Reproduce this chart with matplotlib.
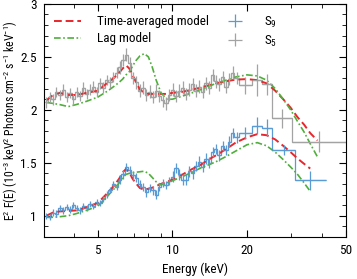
import numpy as np
import matplotlib.pyplot as plt
from matplotlib.ticker import FixedLocator, NullFormatter, MultipleLocator

plt.rcParams['font.family'] = ['Roboto Condensed', 'DejaVu Sans']
plt.rcParams['mathtext.default'] = 'regular'

###############################################################################
# DATA
###############################################################################

#bin edges below 18.5 keV, shared by both spectra
edges_low = [3.05, 3.15, 3.25, 3.35, 3.46, 3.57, 3.68, 3.80, 3.92, 4.04, 4.17,
             4.30, 4.44, 4.58, 4.72, 4.87, 5.02, 5.18, 5.34, 5.51, 5.68, 5.86,
             6.04, 6.23, 6.42, 6.62, 6.83, 7.04, 7.26, 7.49, 7.72, 7.96, 8.21,
             8.47, 8.73, 9.00, 9.28, 9.57, 9.87, 10.18, 10.5, 10.83, 11.17,
             11.52, 11.88, 12.25, 12.63, 13.03, 13.44, 13.86, 14.3, 14.75, 15.2,
             15.7, 16.2, 16.7, 17.2, 17.8, 18.5]
edges_S5 = edges_low + [21.0, 23.0, 25.3, 30.4, 50.0]
edges_S9 = edges_low + [21.0, 23.0, 25.3, 31.3, 41.5]

S5 = [2.07, 2.12, 2.10, 2.17, 2.14, 2.19, 2.12, 2.16, 2.10, 2.17, 2.13, 2.21,
      2.15, 2.19, 2.22, 2.17, 2.25, 2.21, 2.28, 2.26, 2.31, 2.35, 2.40, 2.47,
      2.52, 2.44, 2.30, 2.26, 2.18, 2.21, 2.14, 2.17, 2.12, 2.18, 2.13, 2.09,
      2.06, 2.14, 2.19, 2.13, 2.18, 2.21, 2.15, 2.19, 2.24, 2.18, 2.22, 2.17,
      2.25, 2.21, 2.33, 2.27, 2.24, 2.31, 2.22, 2.29, 2.35, 2.30,
      2.23, 2.28, 2.24, 1.92, 1.70]
S5_err = [0.05] * 22 + [0.06] * 16 + [0.06] * 20 + [0.08, 0.15, 0.1, 0.09, 0.1]

S9 = [1.00, 0.99, 1.03, 1.02, 1.07, 1.05, 1.08, 1.06, 1.10, 1.07, 1.05, 1.09,
      1.07, 1.11, 1.09, 1.13, 1.12, 1.16, 1.20, 1.24, 1.30, 1.27, 1.34, 1.39,
      1.46, 1.43, 1.38, 1.36, 1.30, 1.27, 1.22, 1.26, 1.24, 1.20, 1.27, 1.31,
      1.29, 1.33, 1.37, 1.45, 1.39, 1.34, 1.34, 1.42, 1.40, 1.47, 1.51, 1.46,
      1.54, 1.50, 1.60, 1.63, 1.57, 1.66, 1.62, 1.70, 1.78, 1.74,
      1.78, 1.85, 1.83, 1.62, 1.336]
S9_err = [0.03] * 22 + [0.04] * 16 + [0.05] * 20 + [0.06, 0.08, 0.08, 0.05, 0.09]

#model curves
E_mod = [3.1, 3.3, 3.5, 3.8, 4.1, 4.5, 5.0, 5.5, 5.8, 6.1, 6.3, 6.5, 6.7, 6.9,
         7.1, 7.4, 7.7, 8.0, 8.3, 8.6, 9.0, 9.5, 10, 11, 12, 13, 14, 15, 16.5,
         18, 20, 22, 24, 26, 28, 30, 32, 34, 36, 38.5]
avg_S5 = [2.09, 2.14, 2.16, 2.14, 2.14, 2.16, 2.18, 2.26, 2.30, 2.35, 2.39,
          2.42, 2.39, 2.33, 2.27, 2.19, 2.16, 2.15, 2.15, 2.15, 2.15, 2.15,
          2.16, 2.17, 2.19, 2.21, 2.23, 2.25, 2.27, 2.285, 2.29, 2.28, 2.25,
          2.18, 2.10, 2.02, 1.93, 1.86, 1.78, 1.71]
lag_S5 = [2.07, 2.06, 2.05, 2.03, 2.05, 2.08, 2.12, 2.18, 2.22, 2.26, 2.29,
          2.33, 2.36, 2.41, 2.46, 2.51, 2.53, 2.50, 2.40, 2.28, 2.16, 2.10,
          2.10, 2.13, 2.16, 2.19, 2.22, 2.25, 2.28, 2.31, 2.33, 2.32, 2.28,
          2.20, 2.10, 2.00, 1.89, 1.79, 1.68, 1.555]
E_mod9 = E_mod[:-1]
avg_S9 = [1.00, 1.03, 1.04, 1.045, 1.05, 1.08, 1.12, 1.22, 1.28, 1.35, 1.41,
          1.44, 1.41, 1.35, 1.31, 1.26, 1.245, 1.255, 1.265, 1.28, 1.30, 1.32,
          1.34, 1.39, 1.44, 1.48, 1.53, 1.57, 1.63, 1.69, 1.74, 1.77, 1.76,
          1.72, 1.66, 1.60, 1.54, 1.49, 1.445]
lag_S9 = [0.985, 0.985, 0.99, 1.00, 1.02, 1.05, 1.09, 1.19, 1.25, 1.31, 1.36,
          1.39, 1.40, 1.405, 1.41, 1.415, 1.42, 1.40, 1.36, 1.32, 1.29, 1.31,
          1.33, 1.37, 1.41, 1.45, 1.48, 1.51, 1.56, 1.61, 1.67, 1.69, 1.66,
          1.60, 1.53, 1.46, 1.39, 1.31, 1.23]

###############################################################################
# PLOT
###############################################################################

c_avg = '#e8262b'
c_lag = '#4fae3c'
c_S9 = '#5b9bd5'
c_S5 = '#a3a3a3'

fig = plt.figure(figsize=(3.57, 2.79), dpi=100)
ax = fig.add_axes([0.123, 0.151, 0.845, 0.835])

def plot_spectrum(edges, vals, errs, color, label):
    edges = np.array(edges)
    centers = np.sqrt(edges[:-1] * edges[1:])
    ax.stairs(vals, edges, baseline=None, color=color, lw=0.9)
    ax.errorbar(centers, vals, yerr=errs, xerr=[centers - edges[:-1], edges[1:] - centers],
                fmt='none', ecolor=color, elinewidth=0.9, capsize=0, label=label)

ax.plot(E_mod, avg_S5, '--', color=c_avg, lw=1.4, dashes=(4, 2), label="Time-averaged model")
ax.plot(E_mod, lag_S5, '-.', color=c_lag, lw=1.2, dashes=(4, 1.5, 1, 1.5), label="Lag model")
ax.plot(E_mod9, avg_S9, '--', color=c_avg, lw=1.4, dashes=(4, 2))
ax.plot(E_mod9, lag_S9, '-.', color=c_lag, lw=1.2, dashes=(4, 1.5, 1, 1.5))

plot_spectrum(edges_S9, S9, S9_err, c_S9, "S$_9$")
plot_spectrum(edges_S5, S5, S5_err, c_S5, "S$_5$")

ax.set_xscale('log')
ax.set_xlim(3.03, 50)
ax.set_ylim(0.8, 3)
ax.xaxis.set_major_locator(FixedLocator([5, 10, 20, 50]))
ax.xaxis.set_minor_locator(FixedLocator([3, 4, 6, 7, 8, 9, 30, 40]))
ax.xaxis.set_minor_formatter(NullFormatter())
ax.set_xticklabels(["5", "10", "20", "50"])
ax.yaxis.set_major_locator(FixedLocator([1, 1.5, 2, 2.5, 3]))
ax.set_yticklabels(["1", "1.5", "2", "2.5", "3"])
ax.yaxis.set_minor_locator(MultipleLocator(0.1))
ax.tick_params(which='both', direction='in', top=True, right=True, labelsize=9.5)
ax.tick_params(which='major', length=5, pad=5)
ax.tick_params(which='minor', length=3)

ax.set_xlabel("Energy (keV)", fontsize=9.5, labelpad=4)
ax.set_ylabel("E$^2$ F(E) (10$^{-3}$ keV$^2$ Photons cm$^{-2}$ s$^{-1}$ keV$^{-1}$)", fontsize=8.5)
ax.yaxis.set_label_coords(-0.08, 0.5)

handles, labels = ax.get_legend_handles_labels()
ax.legend(handles, labels, ncol=2, loc='upper left', frameon=False, fontsize=9.5,
          handlelength=2.0, handletextpad=1.2, columnspacing=1.0,
          borderaxespad=0.4, labelspacing=0.3)

plt.savefig("out.png", dpi=100)
